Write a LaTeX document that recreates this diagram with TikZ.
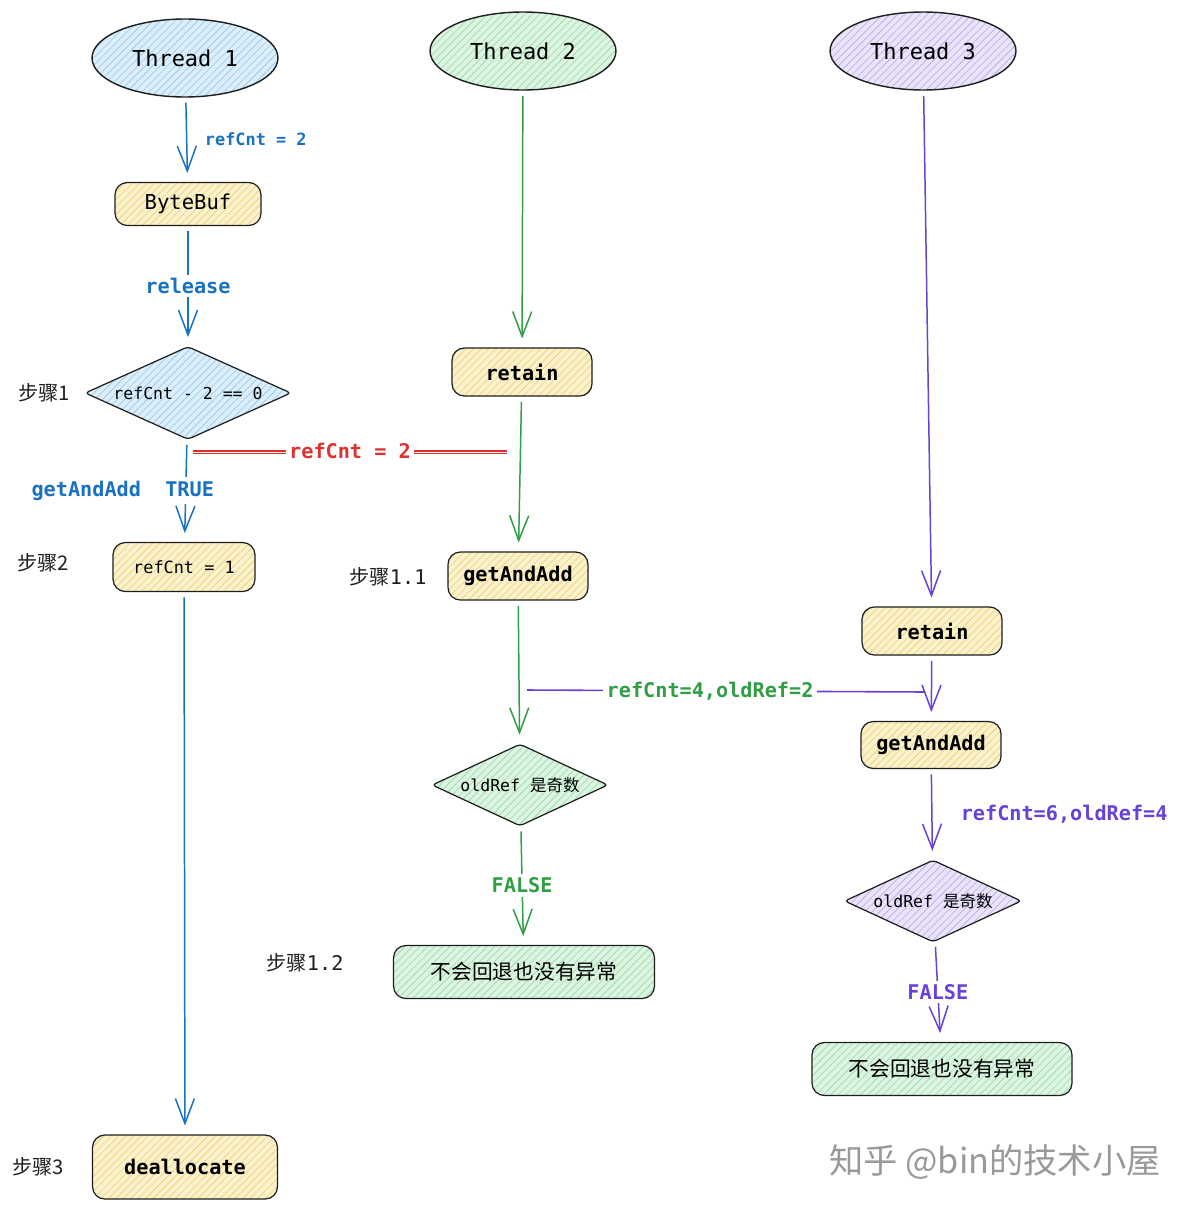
\documentclass[tikz,border=0pt]{standalone}
\usepackage{fontspec}
\setmainfont{DejaVu Sans Mono}
\newfontfamily\cjk{Noto Sans CJK SC}
\usetikzlibrary{shapes.geometric,patterns.meta,arrows.meta}

\definecolor{inkdark}{HTML}{1E1E1E}
\definecolor{exblue}{HTML}{1971C2}
\definecolor{exgreen}{HTML}{2F9E44}
\definecolor{expurple}{HTML}{6741D9}
\definecolor{exred}{HTML}{E03131}
\definecolor{fillblue}{HTML}{8CC8F0}
\definecolor{fillyellow}{HTML}{F0D060}
\definecolor{fillgreen}{HTML}{90DCA0}
\definecolor{fillpurple}{HTML}{B8A4F0}

\begin{document}
\begin{tikzpicture}[x=0.02cm, y=-0.02cm,
	hatch/.style={preaction={fill=#1!30}, pattern={Lines[angle=45,distance=3pt,line width=0.35pt]}, pattern color=#1},
	thread/.style={ellipse, draw=inkdark, line width=0.8pt, minimum width=3.72cm, minimum height=1.56cm, hatch=#1, font=\fontsize{12.5}{14}\selectfont},
	stepbox/.style={rounded corners=7pt, draw=inkdark, line width=0.7pt, hatch=#1},
	check/.style={diamond, aspect=2.2, rounded corners=2pt, draw=inkdark, line width=0.7pt, inner sep=0pt, hatch=#1, font=\fontsize{9.4}{11}\selectfont},
	flow/.style={draw=#1, line width=0.85pt, shorten <=3pt, shorten >=5pt, -{Straight Barb[length=5mm,width=3.8mm]}},
	lbl/.style={text=#1, font=\bfseries\fontsize{11.5}{13}\selectfont, inner sep=2pt},
	steplbl/.style={font=\fontsize{11.5}{13}\selectfont, text=inkdark}
]
	%%%%% START %%%%%
	\useasboundingbox (0,0) rectangle (1200,1210);

	% thread heads
	\node[thread=fillblue] (t1) at (185,58) {Thread 1};
	\node[thread=fillgreen] (t2) at (523,51) {Thread 2};
	\node[thread=fillpurple] (t3) at (923,51) {Thread 3};

	% thread 1 column
	\node[stepbox=fillyellow, minimum width=2.92cm, minimum height=0.86cm, font=\fontsize{11.7}{13}\selectfont] (buf) at (188,204) {ByteBuf};
	\node[check=fillblue, minimum width=4.12cm, minimum height=1.86cm] (chk) at (188,393) {refCnt - 2 == 0};
	\node[stepbox=fillyellow, minimum width=2.84cm, minimum height=0.98cm, font=\fontsize{9.6}{11}\selectfont] (one) at (184,567) {refCnt = 1};
	\node[stepbox=fillyellow, minimum width=3.7cm, minimum height=1.28cm, font=\bfseries\fontsize{11.5}{13}\selectfont] (dealloc) at (185,1167) {deallocate};

	% thread 2 column
	\node[stepbox=fillyellow, minimum width=2.8cm, minimum height=0.96cm, font=\bfseries\fontsize{11.5}{13}\selectfont] (ret2) at (522,372) {retain};
	\node[stepbox=fillyellow, minimum width=2.8cm, minimum height=0.96cm, font=\bfseries\fontsize{11.5}{13}\selectfont] (gaa2) at (518,576) {getAndAdd};
	\node[check=fillgreen, aspect=2.15, minimum width=3.52cm, minimum height=1.64cm] (odd2) at (520,785) {oldRef {\cjk 是奇数}};
	\node[stepbox=fillgreen, minimum width=5.22cm, minimum height=1.06cm, font=\cjk\fontsize{11.8}{13}\selectfont] (ok2) at (524,972) {不会回退也没有异常};

	% thread 3 column
	\node[stepbox=fillyellow, minimum width=2.8cm, minimum height=0.96cm, font=\bfseries\fontsize{11.5}{13}\selectfont] (ret3) at (932,631) {retain};
	\node[stepbox=fillyellow, minimum width=2.8cm, minimum height=0.94cm, font=\bfseries\fontsize{11.5}{13}\selectfont] (gaa3) at (931,745) {getAndAdd};
	\node[check=fillpurple, aspect=2.15, minimum width=3.54cm, minimum height=1.64cm] (odd3) at (933,901) {oldRef {\cjk 是奇数}};
	\node[stepbox=fillgreen, minimum width=5.2cm, minimum height=1.06cm, font=\cjk\fontsize{11.8}{13}\selectfont] (ok3) at (942,1069) {不会回退也没有异常};

	% step names
	\node[steplbl] (s1) at (44,393) {\cjk 步骤1};
	\node[steplbl] (s2) at (43,563) {\cjk 步骤2};
	\node[steplbl] (s3) at (38,1167) {\cjk 步骤3};
	\node[steplbl] (s11) at (388,577) {{\cjk 步骤}1.1};
	\node[steplbl] (s12) at (305,963) {{\cjk 步骤}1.2};

	% thread 1 flow
	\draw[flow=exblue] (t1) -- node[lbl=exblue, right=8pt, font=\bfseries\fontsize{9.6}{11}\selectfont] {refCnt = 2} (buf);
	\draw[flow=exblue] (buf) -- node[lbl=exblue, fill=white] {release} (chk);
	\draw[flow=exblue] (chk) -- node[lbl=exblue, fill=white, xshift=-1.26cm] {getAndAdd\ \ TRUE} (one);
	\draw[flow=exblue] (one) -- (dealloc);

	% thread 2 flow
	\draw[flow=exgreen] (t2) -- (ret2);
	\draw[flow=exgreen] (ret2) -- (gaa2);
	\draw[flow=exgreen] (gaa2) -- (odd2);
	\draw[flow=exgreen] (odd2) -- node[lbl=exgreen, fill=white] {FALSE} (ok2);

	% thread 3 flow
	\draw[flow=expurple] (t3) -- (ret3);
	\draw[flow=expurple] (ret3) -- (gaa3);
	\draw[flow=expurple] (gaa3) -- node[lbl=expurple, right=14pt] {refCnt=6,oldRef=4} (odd3);
	\draw[flow=expurple] (odd3) -- node[lbl=expurple, fill=white] {FALSE} (ok3);

	% cross links
	\coordinate (r1) at (193,451);
	\coordinate (r2) at (507,451);
	\draw[draw=exred, line width=0.6pt, transform canvas={yshift=-1.4pt}] (r1) -- (r2);
	\draw[draw=exred, line width=0.6pt] (r1) -- node[lbl=exred, fill=white] {refCnt = 2} (r2);
	\coordinate (p1) at (527,690);
	\coordinate (p2) at (925,692);
	\draw[expurple, line width=0.9pt] (p1) -- node[lbl=exgreen, fill=white, pos=0.46] {refCnt=4,oldRef=2} (p2);

	% watermark
	\node[text=black!40, font=\cjk\fontsize{19.5}{22}\selectfont] (wm) at (995,1162) {知乎 @bin的技术小屋};

	%%%%% END %%%%%
\end{tikzpicture}
\end{document}
